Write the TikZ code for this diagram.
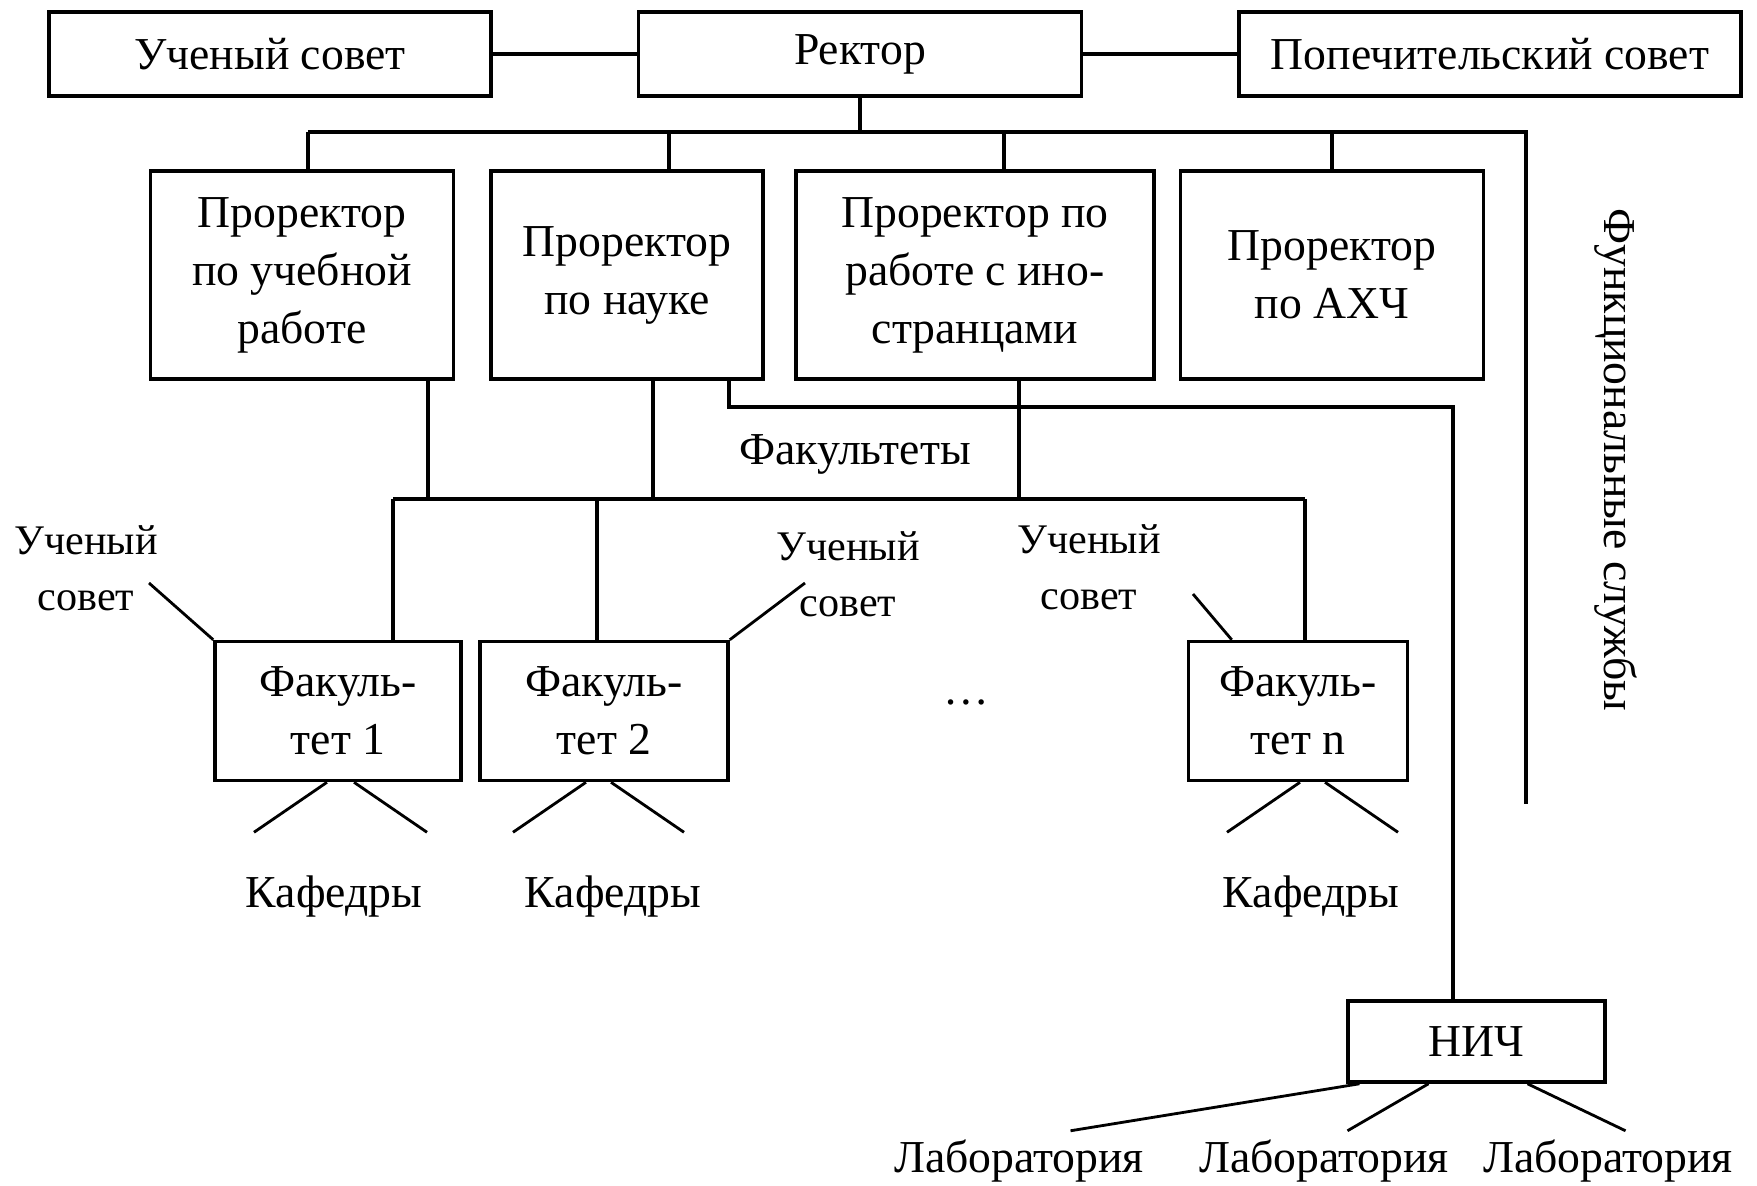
\documentclass[tikz,border=0pt]{standalone}
\usepackage{fontspec}
\setmainfont{Liberation Serif}
\usetikzlibrary{positioning}

\begin{document}
\begin{tikzpicture}[line width=0.9pt,
          box/.style={draw,line width=1pt,align=center,inner sep=2pt,
                      font=\fontsize{13}{16.5}\selectfont},
          lbl/.style={align=center,inner sep=1pt,font=\fontsize{13}{16.5}\selectfont},
          smalllbl/.style={align=center,inner sep=1pt,font=\fontsize{12}{16}\selectfont},
          thin/.style={line width=0.8pt}]
        \useasboundingbox (0,0) rectangle (17.57,-11.85);
        \node[box,minimum width=4.42cm,minimum height=0.84cm](us) at (2.70,-0.54){Ученый совет};
        \node[box,minimum width=4.43cm,minimum height=0.84cm](rector) at (8.60,-0.54){Ректор};
        \node[box,minimum width=5.02cm,minimum height=0.84cm](ps) at (14.90,-0.54){Попечительский совет};
        \draw(us)--(rector);
        \draw(rector)--(ps);
        \node[box,minimum width=3.03cm,minimum height=2.08cm](p1) at (3.02,-2.75){Проректор\\по учебной\\работе};
        \node[box,minimum width=2.72cm,minimum height=2.08cm](p2) at (6.27,-2.75){Проректор\\по науке};
        \node[box,minimum width=3.58cm,minimum height=2.08cm](p3) at (9.75,-2.75){Проректор по\\работе с ино-\\странцами};
        \node[box,minimum width=3.03cm,minimum height=2.08cm](p4) at (13.32,-2.75){Проректор\\по АХЧ};
        \node[lbl,rotate=-90](func) at (16.16,-4.60){Функциональные службы};
        \coordinate(bus) at (0,-1.32);
        \coordinate(p1top) at ([xshift=0.06cm]p1.north);
        \coordinate(p2top) at ([xshift=0.42cm]p2.north);
        \coordinate(p3top) at ([xshift=0.29cm]p3.north);
        \coordinate(p4top) at (p4.north);
        \coordinate(funcend) at (15.26,-8.04);
        \draw(rector.south)--(rector.south |- bus);
        \draw(p1top |- bus)--(funcend |- bus)--(funcend);
        \foreach \p in {p1top,p2top,p3top,p4top}
          \draw(\p)--(\p |- bus);
        \node[box,minimum width=2.46cm,minimum height=1.39cm](f1) at (3.38,-7.11){Факуль-\\тет 1};
        \node[box,minimum width=2.48cm,minimum height=1.39cm](f2) at (6.04,-7.11){Факуль-\\тет 2};
        \node[box,minimum width=2.19cm,minimum height=1.39cm](fn) at (12.98,-7.11){Факуль-\\тет n};
        \node[lbl](dots) at (9.66,-7.02){\dots};
        \node[lbl](facs) at (8.55,-4.54){Факультеты};
        \coordinate(fbus) at (0,-4.99);
        \coordinate(p1bot) at ([xshift=1.26cm]p1.south);
        \coordinate(p2bot) at ([xshift=0.26cm]p2.south);
        \coordinate(p3bot) at ([xshift=0.44cm]p3.south);
        \foreach \p in {p1bot,p2bot,p3bot}
          \draw(\p)--(\p |- fbus);
        \coordinate(f1top) at ([xshift=0.55cm]f1.north);
        \coordinate(f2top) at ([xshift=-0.07cm]f2.north);
        \coordinate(fntop) at ([xshift=0.07cm]fn.north);
        \draw(f1top |- fbus)--(fntop |- fbus);
        \foreach \f in {f1top,f2top,fntop}
          \draw(\f)--(\f |- fbus);
        \node[smalllbl](sov1) at (0.86,-5.68){Ученый\\совет};
        \node[smalllbl](sov2) at (8.48,-5.74){Ученый\\совет};
        \node[smalllbl](sovn) at (10.89,-5.67){Ученый\\совет};
        \coordinate(s1) at (1.49,-5.83);
        \coordinate(s2) at (8.05,-5.83);
        \coordinate(sn) at (11.93,-5.94);
        \draw[thin](s1)--(f1.north west);
        \draw[thin](s2)--(f2.north east);
        \draw[thin](sn)--([xshift=0.45cm]fn.north west);
        \foreach \f/\a/\b in {f1/-0.11/0.16,f2/-0.18/0.07,fn/0.02/0.27}{
          \draw[thin]([xshift=\a cm]\f.south)--++(-0.73,-0.50);
          \draw[thin]([xshift=\b cm]\f.south)--++(0.73,-0.50);
        }
        \node[lbl](kaf1) at (3.34,-8.96){Кафедры};
        \node[lbl](kaf2) at (6.13,-8.96){Кафедры};
        \node[lbl](kafn) at (13.11,-8.96){Кафедры};
        \node[box,minimum width=2.57cm,minimum height=0.81cm](nich) at (14.765,-10.415){НИЧ};
        \coordinate(p2sci) at ([xshift=1.02cm]p2.south);
        \coordinate(nichtop) at ([xshift=-0.235cm]nich.north);
        \draw(p2sci)|-(nichtop |- 0,-4.07)--(nichtop);
        \foreach \a/\d in {-1.17/-2.89,-0.48/-0.81,0.51/0.98}
          \draw[thin]([xshift=\a cm]nich.south)--++(\d,-0.47);
        \node[lbl,anchor=base](lab1) at (10.19,-11.72){Лаборатория};
        \node[lbl,anchor=base](lab2) at (13.24,-11.72){Лаборатория};
        \node[lbl,anchor=base](lab3) at (16.08,-11.72){Лаборатория};
      \end{tikzpicture}
\end{document}
